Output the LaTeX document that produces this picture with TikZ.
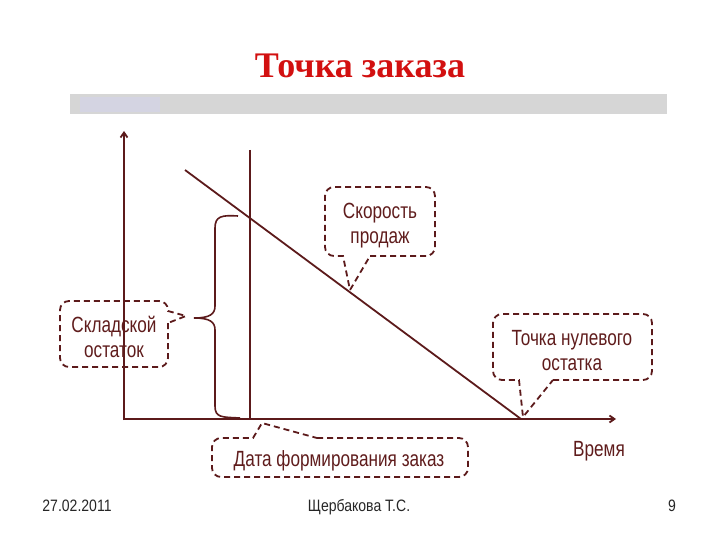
\documentclass[tikz,border=0pt]{standalone}
\usepackage{fontspec}
\setmainfont{Liberation Sans}
\newfontfamily\titlefont{Liberation Serif}
\newfontfamily\bubfont[FakeStretch=0.78]{Liberation Sans}
\newfontfamily\footfont[FakeStretch=0.85]{Liberation Sans}
\usetikzlibrary{arrows.meta}
\definecolor{maroon}{RGB}{92,26,27}
\definecolor{bubtext}{RGB}{95,28,28}
\definecolor{titlered}{RGB}{210,16,16}
\definecolor{barGray}{RGB}{214,214,214}
\definecolor{barLav}{RGB}{212,212,226}
\tikzset{
  axisline/.style={draw=maroon, line width=1.8pt},
  bubble/.style={draw=maroon, line width=1.8pt, dash pattern=on 6pt off 4pt},
  bubbletext/.style={text=bubtext, font=\bubfont\fontsize{22}{25}\selectfont, align=center, inner sep=0pt},
  foot/.style={text=black!85, font=\footfont\fontsize{16.5}{18}\selectfont, inner sep=0pt, anchor=base},
}
\begin{document}
\begin{tikzpicture}[x=1pt,y=-1pt]
\useasboundingbox (0,0) rectangle (720,540);
% title and bar
\node[text=titlered, font=\titlefont\bfseries\fontsize{36}{40}\selectfont, inner sep=0pt, anchor=base] (title) at (360,78) {Точка заказа};
\fill[barGray] (70,94) rectangle (667,114);
\fill[barLav] (80,97) rectangle (160,112);
% axes
\coordinate (o) at (124,419);
\coordinate (ytop) at (124,131);
\coordinate (xend) at (616,419);
\draw[axisline, -{Straight Barb[length=5pt,width=7pt]}] (124,420) -- (ytop);
\draw[axisline, -{Straight Barb[length=5pt,width=7pt]}] (123,419) -- (xend);
% order date line
\coordinate (dtop) at (250,150);
\coordinate (dbot) at (250,419);
\draw[axisline] (dtop) -- (dbot);
% sales line
\coordinate (s0) at (185,170);
\coordinate (s1) at (521,419);
\draw[axisline] (s0) -- (s1);
% brace
\coordinate (btip) at (194,318);
\draw[axisline, line width=1.6pt] (238,216) .. controls (222,215) and (215,216) .. (215,228)
  -- (215,306) .. controls (215,314) and (210,318) .. (btip)
  .. controls (210,318) and (215,322) .. (215,330)
  -- (215,406) .. controls (215,418) and (222,417) .. (240,418);
% labels
\node[bubbletext] (sklad) at (114,337) {Складской\\остаток};
\node[bubbletext] (skor) at (380,226) {Скорость\\продаж};
\node[bubbletext] (nul) at (572,351) {Точка нулевого\\остатка};
\node[bubbletext] (data) at (339,461) {Дата формирования заказ};
\node[text=bubtext, font=\bubfont\fontsize{22}{25}\selectfont, inner sep=0pt] (vremya) at (599,451) {Время};
% tips
\coordinate (t1) at (186,316);
\coordinate (t2) at (350,290);
\coordinate (t3) at (523,417);
\coordinate (t4) at (262,423);
% bubbles
\draw[bubble, rounded corners=9pt] (168,323) -- (168,367) -- (60,367) -- (60,301) -- (168,301) [sharp corners] -- (168,311) -- (t1) -- (168,323);
\draw[bubble, rounded corners=9pt] (370,256) -- (435,256) -- (435,187) -- (325,187) -- (325,256) [sharp corners] -- (343,256) -- (t2) -- (370,256);
\draw[bubble, rounded corners=9pt] (553,380) -- (652,380) -- (652,314) -- (493,314) -- (493,380) [sharp corners] -- (519,380) -- (t3) -- (553,380);
\draw[bubble, rounded corners=9pt] (317,438) -- (468,438) -- (468,477) -- (212,477) -- (212,438) [sharp corners] -- (253,438) -- (t4) -- (317,438);
% footer
\node[foot] (date) at (77,511.5) {27.02.2011};
\node[foot] (author) at (359,511.5) {Щербакова Т.С.};
\node[foot] (page) at (672,511.5) {9};
\end{tikzpicture}
\end{document}
